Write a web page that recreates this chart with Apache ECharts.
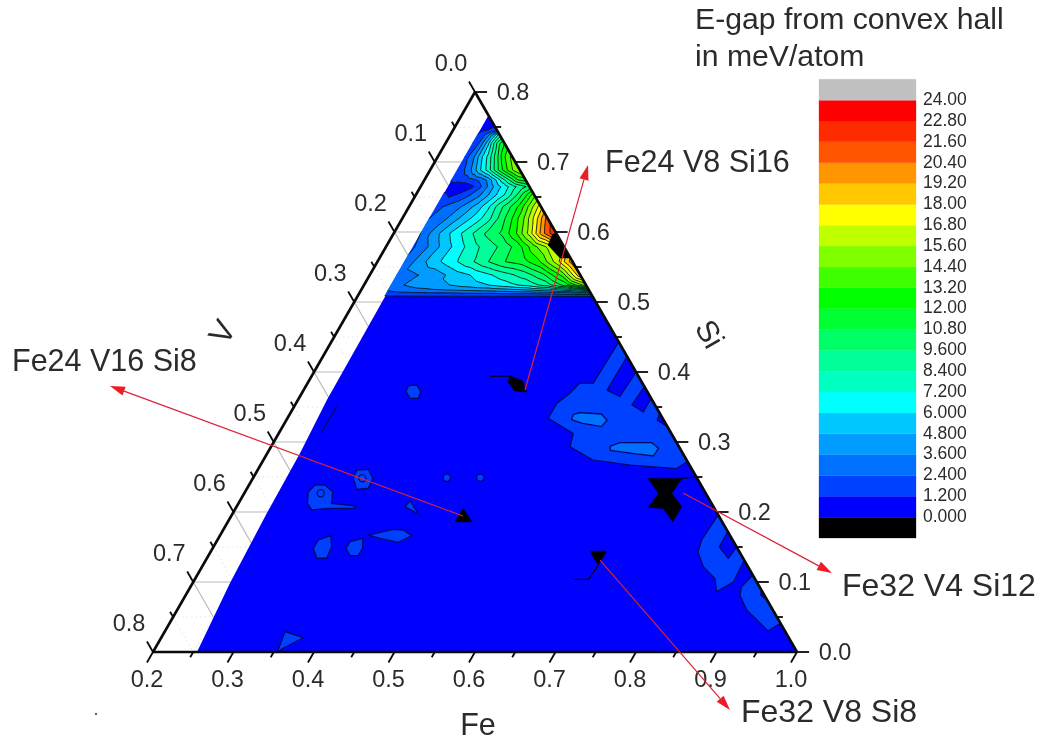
<!DOCTYPE html>
<html><head><meta charset="utf-8">
<style>html,body{margin:0;padding:0;background:#fff}#c{width:1042px;height:740px}#c canvas{filter:blur(0.4px)}</style>
<script src="https://cdn.jsdelivr.net/npm/echarts@6/dist/echarts.min.js"></script>
</head><body><div id="c"></div>
<script>
// ---- tick labels
const feTicks = [0.2,0.3,0.4,0.5,0.6,0.7,0.8,0.9,1.0];
const vTicks  = [0.0,0.1,0.2,0.3,0.4,0.5,0.6,0.7,0.8];
const siTicks = [0.0,0.1,0.2,0.3,0.4,0.5,0.6,0.7,0.8];
const legendLabels = ['0.000','1.200','2.400','3.600','4.800','6.000','7.200','8.400','9.600','10.80','12.00','13.20','14.40','15.60','16.80','18.00','19.20','20.40','21.60','22.80','24.00'];
const bandColors = ['#0000ff','#0040ff','#0070ff','#009cff','#00c8ff','#00ffff','#00ffc0','#00ff99','#00ff66','#00ff33','#00ff00','#40ff00','#80ff00','#bfff00','#ffff00','#ffc800','#ff9500','#ff5500','#ff2b00','#ff0000'];
const levelStep = 1.2;

// ---- contour field (meV/atom) sampled on rows of constant Si, columns = share of the row width
const fieldSi = [0.5005,0.5076,0.5124,0.5171,0.5243,0.5386,0.5576,0.579,0.5981,0.6195,0.6362,0.6529,0.6648,0.6743,0.6886,0.7076,0.7267,0.7386,0.7457,0.767];
const fieldFeLeft = 0.2335;
const fieldValues = [
[0.6,0.6,0.6,0.6,0.6,0.6,0.6,0.6,0.6,0.6,0.6],
[1.0,1.0,1.0,1.0,1.0,1.0,1.0,1.0,1.0,1.0,1.0],
[1.8,2.0,2.2,2.2,2.4,2.4,2.6,2.6,2.8,3.0,3.2],
[2.6,3.2,3.4,3.6,3.8,4.0,4.4,4.8,5.4,6.5,8.0],
[3.2,3.8,4.2,4.8,5.4,6.0,6.8,7.6,9.0,11.5,15],
[3.0,3.5,4.0,5.2,6.0,7.0,8.0,9.0,10.6,13.5,19],
[2.6,4.4,5.8,7.0,8.2,9.6,10.8,11.4,13,16,20],
[2.2,3.6,5.2,6.6,8.0,9.0,10,11.5,14,16,17],
[2.4,4.2,5.8,7.2,8.6,10,11,13,16,20,23],
[2.4,3.0,4.2,5.4,6.6,8.0,10,12,14.4,17.5,21],
[2.0,2.6,3.2,4.2,5.4,7.0,9.0,10.6,12.4,15,17.5],
[1.4,1.0,1.6,2.4,3.4,4.8,6.2,7.6,9.4,11.6,14],
[0.8,0.4,0.4,1.0,2.2,3.8,5.4,6.6,8.0,9.0,10],
[1.3,1.5,1.8,2.2,2.8,4.0,6.0,8.0,10,12,12.6],
[1.6,2.2,3.2,4.8,6.4,7.8,9.8,11.6,13.2,14.6,15.6],
[1.6,2.6,3.6,5.0,6.4,7.6,9.2,10.8,12.6,13.8,14.8],
[1.4,1.8,2.4,3.4,4.6,5.8,7.4,8.8,10.2,11.2,12],
[1.3,1.5,1.8,2.2,2.8,3.4,4.2,5.0,6.0,7.0,7.6],
[1.0,1.05,1.1,1.1,1.15,1.2,1.25,1.3,1.3,1.35,1.4],
[0.6,0.6,0.6,0.6,0.6,0.6,0.6,0.6,0.6,0.6,0.6]
];

// ---- outlined regions as [Fe, Si]
const domain = [[0.2547,0],[0.2464,0.0986],[0.2422,0.198],[0.2407,0.2838],[0.236,0.36],[0.2345,0.507],[0.2335,0.767],[0.233,0.767],[1,0]];
const regionA = [[0.557,0.443],[0.555,0.384],[0.538,0.384],[0.533,0.37],[0.524,0.355],[0.524,0.334],[0.566,0.312],[0.5715,0.293],[0.61,0.274],[0.6595,0.267],[0.7195,0.262],[0.728,0.272]];
const holeA1 = [[0.578,0.422],[0.577,0.374],[0.5975,0.365],[0.6,0.4]];
const holeA2 = [[0.621,0.379],[0.6185,0.353],[0.6375,0.343],[0.6375,0.3625]];
const holeA3 = [[0.659,0.341],[0.661,0.331],[0.678,0.322]];
const islandA1 = [[0.5525,0.339],[0.559,0.342],[0.587,0.34],[0.5985,0.331],[0.596,0.322],[0.569,0.327],[0.554,0.332]];
const islandA2 = [[0.621,0.294],[0.6305,0.299],[0.67,0.299],[0.6825,0.291],[0.6815,0.28],[0.651,0.284],[0.624,0.288]];
const regionB = [[0.804,0.196],[0.8015,0.16],[0.8055,0.143],[0.8225,0.122],[0.8455,0.105],[0.857,0.086],[0.871,0.1],[0.869,0.131]];
const holeB = [[0.828,0.172],[0.8285,0.15],[0.8477,0.134],[0.85,0.15]];
const regionC = [[0.89,0.11],[0.8845,0.093],[0.8885,0.081],[0.9075,0.06],[0.949,0.03],[0.959,0.041]];
const holeC = [[0.9114,0.0886],[0.9145,0.081],[0.926,0.074]];
const blob1 = [[0.327,0.3804],[0.337,0.3814],[0.3466,0.3719],[0.3484,0.3624],[0.3381,0.3624],[0.3283,0.3719]];
const blob2 = [[0.323,0.26],[0.337,0.261],[0.349,0.2481],[0.3505,0.2339],[0.3368,0.2324],[0.3248,0.2481]];
const blob3 = [[0.2785,0.229],[0.282,0.2386],[0.2944,0.2386],[0.3087,0.229],[0.3158,0.2124],[0.3487,0.2086],[0.3462,0.2053],[0.3173,0.2053],[0.2957,0.2029],[0.2855,0.2124]];
const blob4 = [[0.4092,0.2076],[0.4113,0.2161],[0.431,0.1971]];
const blob5 = [[0.325,0.1481],[0.3253,0.16],[0.3377,0.1661],[0.3468,0.1504],[0.3488,0.1339],[0.3364,0.1339]];
const blob6 = [[0.3657,0.1481],[0.3659,0.1576],[0.3793,0.1624],[0.3864,0.1481],[0.3862,0.1376],[0.3759,0.1376]];
const blob7 = [[0.384,0.1671],[0.4109,0.1753],[0.4238,0.1743],[0.4384,0.1661],[0.4264,0.1567],[0.4008,0.1624]];
const blob8 = [[0.3495,0.029],[0.3765,0.0204],[0.3592,0.0053],[0.3544,0]];
const rings = [[0.336,0.2481],[0.4405,0.249],[0.482,0.249],[0.295,0.2267]];
const thinLine = [[0.2525,0.3514],[0.2526,0.3114]];

// ---- lowest-energy structures (black)
const blackStar = [[0.691,0.248],[0.733,0.248],[0.731,0.2267],[0.753,0.2076],[0.7526,0.186],[0.7315,0.205],[0.712,0.2067],[0.7147,0.2267]];
const starTail = [[0.733,0.248],[0.75,0.25]];
const blackDown = [[0.671,0.144],[0.6916,0.144],[0.691,0.124]];
const downTail = [[0.691,0.124],[0.689,0.104],[0.67,0.104]];
const blackUp = [[0.483,0.205],[0.482,0.186],[0.503,0.186]];
const blackBlob = [[0.4465,0.394],[0.464,0.3886],[0.479,0.3714],[0.463,0.373],[0.448,0.3857]];
const blobTail = [[0.4216,0.394],[0.4465,0.394]];
const blackHex = [[0.3983,0.5971],[0.4029,0.5971],[0.4371,0.5629],[0.4242,0.5629],[0.4,0.5814]];

// ---- annotation arrows: [from Fe, from Si, to Fe, to Si]
const arrows = [[0.475,0.3743,0.3926,0.6957],[0.488,0.1943,-0.0434,0.38],[0.7449,0.2271,0.987,0.1129],[0.6896,0.1314,0.9582,-0.0829]];

const FONT = '"Liberation Sans",Arial,sans-serif';
const TEXT = '#2b2b2b';
const xy = (p) => [p[0] + p[1] / 2, p[1]];

// ---- contour clipping
function contourShapes() {
  const fills = [], lines = [];
  const nCols = fieldValues[0].length;
  const node = (r, c) => {
    const t = c / (nCols - 1), s = fieldSi[r];
    return { p: [fieldFeLeft + t * (1 - s - fieldFeLeft), s], v: fieldValues[r][c] };
  };
  const tris = [];
  for (let r = 0; r < fieldSi.length - 1; r++) for (let c = 0; c < nCols - 1; c++) {
    const a = node(r, c), b = node(r, c + 1), d = node(r + 1, c), e = node(r + 1, c + 1);
    tris.push([a, b, e], [a, e, d]);
  }
  const lerp = (a, b, L) => {
    const k = (L - a.v) / (b.v - a.v);
    return [a.p[0] + k * (b.p[0] - a.p[0]), a.p[1] + k * (b.p[1] - a.p[1])];
  };
  for (let k = 1; k < bandColors.length; k++) {
    const L = k * levelStep;
    for (const tri of tris) {
      const poly = [], seg = [];
      for (let i = 0; i < 3; i++) {
        const a = tri[i], b = tri[(i + 1) % 3];
        if (a.v >= L) poly.push(a.p);
        if ((a.v >= L) !== (b.v >= L)) { const q = lerp(a, b, L); poly.push(q); seg.push(q); }
      }
      if (poly.length >= 3) fills.push({ pts: poly, fill: bandColors[k], stroke: bandColors[k], w: 0.4 });
      if (seg.length === 2) lines.push({ pts: seg, line: true, stroke: '#03100c', w: 0.85 });
    }
  }
  return fills.concat(lines);
}

function gridShapes() {
  const out = [];
  for (let i = 1; i < 16; i++) {
    const v = i * 0.05, major = i % 2 === 0, s = 0.8 - v;
    const stroke = major ? '#b9b9b9' : '#dfe3e6', w = major ? 1.2 : 1, dash = major ? null : [1.5, 3];
    out.push({ pts: [[0.2, s], [1 - s, s]], line: true, stroke, w, dash });
    out.push({ pts: [[0.2, s], [1 - v, 0]], line: true, stroke, w, dash });
  }
  out.push({ pts: [[0.25, 0.75], [0.25, 0]], line: true, stroke: '#dfe3e6', w: 1, dash: [1.5, 3] });
  return out;
}

function regionShapes() {
  const out = [{ pts: domain, fill: bandColors[0] }];
  const edge = '#00086a';
  const add = (pts, k) => out.push({ pts, fill: bandColors[k], stroke: edge, w: 1.3 });
  [regionA, regionB, regionC, blob1, blob2, blob3, blob4, blob5, blob6, blob7, blob8].forEach(r => add(r, 1));
  [holeA1, holeA2, holeA3, holeB, holeC].forEach(r => add(r, 0));
  [islandA1, islandA2].forEach(r => add(r, 2));
  out.push({ pts: thinLine, line: true, stroke: edge, w: 1.3 });
  return out;
}

function axisShapes() {
  const out = [];
  const black = '#0a0a0a';
  out.push({ pts: [[0.2, 0.8], [0.2, 0]], line: true, stroke: black, w: 2.6 });
  out.push({ pts: [[0.2, 0], [1, 0]], line: true, stroke: black, w: 2.6 });
  out.push({ pts: [[1, 0], [0.2, 0.8]], line: true, stroke: black, w: 2.6 });
  for (let i = 0; i <= 16; i++) {
    const d = i * 0.05, len = i % 2 === 0 ? 0.015 : 0.0075;
    out.push({ pts: [[0.2 + d, 0], [0.2 + d, -len]], line: true, stroke: black, w: 1.8 });        // Fe
    out.push({ pts: [[0.2, 0.8 - d], [0.2 - len, 0.8 - d + len]], line: true, stroke: black, w: 1.8 }); // V
    out.push({ pts: [[1 - d, d], [1 - d + len, d]], line: true, stroke: black, w: 1.8 });         // Si
  }
  feTicks.forEach(t => out.push({ at: [t, 0], text: t.toFixed(1), dx: -6, dy: 29 }));
  vTicks.forEach(t => out.push({ at: [0.2, 0.8 - t], text: t.toFixed(1), dx: -24, dy: -27 }));
  siTicks.forEach(t => out.push({ at: [1 - t, t], text: t.toFixed(1), dx: 38, dy: 2 }));
  return out;
}

function blackShapes() {
  const out = [];
  [blackStar, blackDown, blackUp, blackBlob, blackHex].forEach(r => out.push({ pts: r, fill: '#000', stroke: '#000', w: 0.6 }));
  [starTail, downTail, blobTail].forEach(r => out.push({ pts: r, line: true, stroke: '#000', w: 1.1 }));
  rings.forEach(r => out.push({ ring: r }));
  return out;
}

function arrowShapes() {
  return arrows.map(a => ({ arrow: a }));
}

function layer(name, shapes) {
  return {
    name, type: 'custom', coordinateSystem: 'cartesian2d', xAxisIndex: 0, yAxisIndex: 0,
    silent: true, animation: false, progressive: 0, clip: false,
    data: shapes.map((s, i) => [i, 0]),
    renderItem(params, api) {
      const s = shapes[params.dataIndex];
      const pt = (p) => api.coord(xy(p));
      if (s.text) {
        const c = pt(s.at);
        return { type: 'text', x: c[0] + s.dx, y: c[1] + s.dy, silent: true,
          style: { text: s.text, fill: TEXT, font: '23.5px ' + FONT, align: 'center', verticalAlign: 'middle' } };
      }
      if (s.ring) {
        const c = pt(s.ring);
        return { type: 'circle', shape: { cx: c[0], cy: c[1], r: 3.6 }, silent: true,
          style: { fill: bandColors[1], stroke: '#00086a', lineWidth: 1.2 } };
      }
      if (s.arrow) {
        const a = pt([s.arrow[0], s.arrow[1]]), b = pt([s.arrow[2], s.arrow[3]]);
        const dx = b[0] - a[0], dy = b[1] - a[1], n = Math.hypot(dx, dy), ux = dx / n, uy = dy / n;
        const hl = 15, hw = 4.6;
        const base = [b[0] - ux * hl, b[1] - uy * hl];
        return { type: 'group', silent: true, children: [
          { type: 'line', shape: { x1: a[0], y1: a[1], x2: base[0], y2: base[1] }, style: { stroke: '#dc2238', lineWidth: 1.2 } },
          { type: 'polygon', shape: { points: [b, [base[0] - uy * hw, base[1] + ux * hw], [base[0] + uy * hw, base[1] - ux * hw]] }, style: { fill: '#ee1c25' } }
        ] };
      }
      const points = s.pts.map(pt);
      if (s.line) return { type: 'polyline', shape: { points }, silent: true,
        style: { fill: null, stroke: s.stroke, lineWidth: s.w, lineDash: s.dash || null } };
      return { type: 'polygon', shape: { points }, silent: true,
        style: { fill: s.fill, stroke: s.stroke || null, lineWidth: s.w || 0 } };
    }
  };
}

const legendBands = [{ lo: -1.2, hi: 0, c: '#000000' }]
  .concat(bandColors.map((c, i) => ({ lo: i * levelStep, hi: (i + 1) * levelStep, c })))
  .concat([{ lo: 24, hi: 25.2, c: '#c0c0c0' }]);

const legendSeries = {
  name: 'legend', type: 'custom', coordinateSystem: 'cartesian2d', xAxisIndex: 1, yAxisIndex: 1,
  silent: true, animation: false,
  data: legendBands.map((b, i) => [i, 0]),
  renderItem(params, api) {
    const b = legendBands[params.dataIndex];
    const p0 = api.coord([0, b.hi]), p1 = api.coord([1, b.lo]);
    return { type: 'rect', shape: { x: p0[0], y: p0[1], width: p1[0] - p0[0], height: p1[1] - p0[1] },
      silent: true, style: { fill: b.c, stroke: b.c, lineWidth: 0.3 } };
  }
};

const T = (text, x, y, size, extra) => Object.assign({ type: 'text', x, y, silent: true,
  style: { text, fill: TEXT, font: size + 'px ' + FONT, align: (extra && extra.rotation !== undefined) || text === 'Fe' ? 'center' : 'left', verticalAlign: 'middle' } }, extra || {});

const chart = echarts.init(document.getElementById('c'), null, { renderer: 'canvas', width: 1042, height: 740 });
chart.setOption({
  animation: false,
  backgroundColor: '#fff',
  grid: [
    { left: 153, right: 245, top: 92, height: 560 },
    { left: 819, right: 126, top: 79.3, height: 458.7 }
  ],
  xAxis: [
    { type: 'value', gridIndex: 0, min: 0.2, max: 1, show: false },
    { type: 'value', gridIndex: 1, min: 0, max: 1, show: false }
  ],
  yAxis: [
    { type: 'value', gridIndex: 0, min: 0, max: 0.8, show: false },
    { type: 'value', gridIndex: 1, min: -1.2, max: 25.2, interval: 1.2, position: 'right',
      axisLine: { show: false }, axisTick: { show: false }, splitLine: { show: false },
      axisLabel: { margin: 7, fontSize: 17.5, fontFamily: '"Liberation Sans",Arial,sans-serif', color: TEXT, showMinLabel: true, showMaxLabel: true,
        formatter: (v) => { const i = Math.round(v / levelStep); return (i >= 0 && i < legendLabels.length) ? legendLabels[i] : ''; } } }
  ],
  series: [
    layer('grid', gridShapes()),
    layer('regions', regionShapes()),
    layer('contours', contourShapes()),
    layer('black', blackShapes()),
    layer('axes', axisShapes()),
    layer('arrows', arrowShapes()),
    legendSeries
  ],
  graphic: [
    T('E-gap from convex hall', 695, 21, 30.2),
    T('in meV/atom', 695, 58, 30.2),
    T('Fe24 V8 Si16', 605, 164, 30.5),
    T('Fe24 V16 Si8', 12, 363, 30.5),
    T('Fe32 V4 Si12', 842, 587, 32),
    T('Fe32 V8 Si8', 741, 713, 32),
    T('Fe', 478, 727, 30.5),
    T('V', 224, 333, 32, { rotation: Math.PI / 3 }),
    T('Si', 708, 335, 30.5, { rotation: -Math.PI / 3 }),
    { type: 'circle', shape: { cx: 96, cy: 714, r: 1 }, style: { fill: '#222' }, silent: true }
  ]
});
</script>
</body></html>
